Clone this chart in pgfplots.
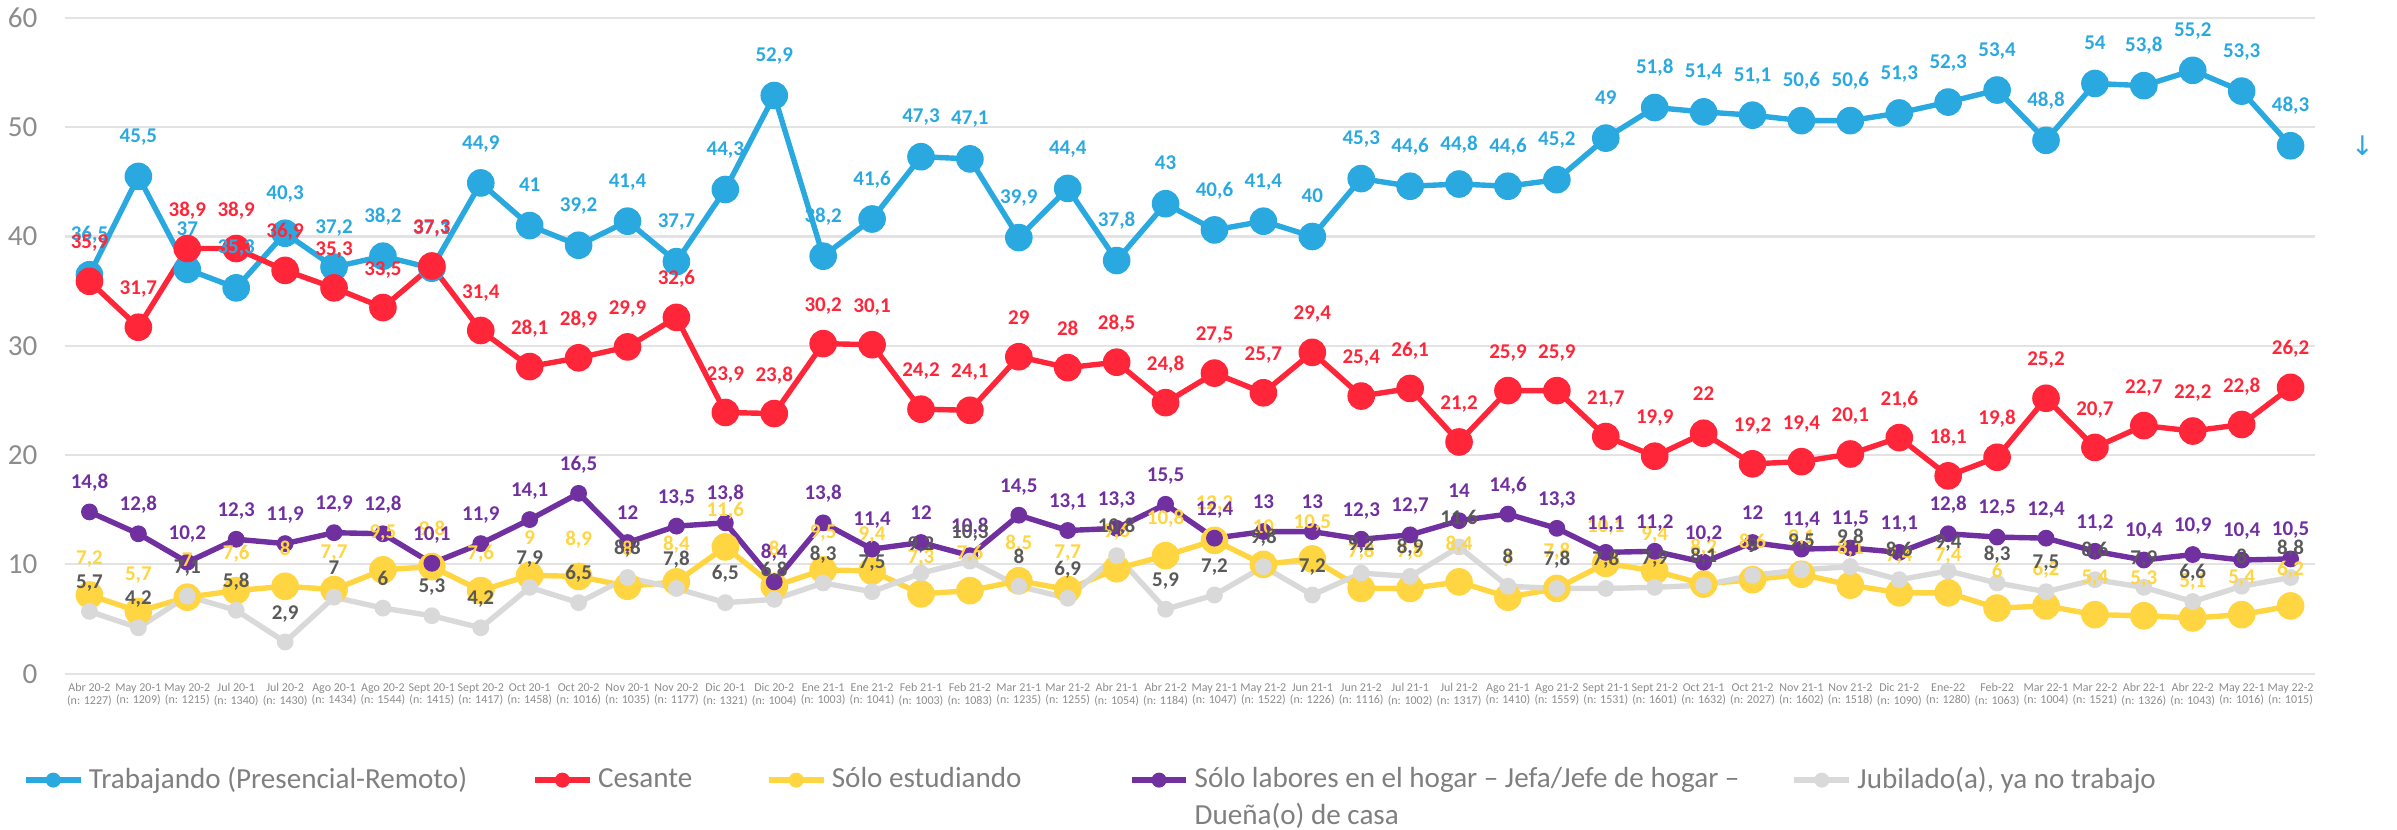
\documentclass[border=0pt]{standalone}
\usepackage{fontspec}
\setmainfont{Carlito}
\newfontfamily\dejavu{DejaVu Sans}
\usepackage{pgfplots}
\usepackage{pgfplotstable}
\pgfplotsset{compat=1.18}
\definecolor{cblue}{HTML}{2AA9E0}
\definecolor{cred}{HTML}{FF2639}
\definecolor{cyellow}{HTML}{FFD541}
\definecolor{cpurple}{HTML}{7030A0}
\definecolor{cgray}{HTML}{D9D9D9}
\definecolor{cgraylab}{HTML}{595959}
\definecolor{ctick}{HTML}{8C8C8C}
\definecolor{clegend}{HTML}{7F7F7F}
\definecolor{cgrid}{HTML}{E3E3E3}

\pgfplotstableread{
x T C E L J
0 36.5 35.9 7.2 14.8 5.7
1 45.5 31.7 5.7 12.8 4.2
2 37 38.9 7 10.2 7.1
3 35.3 38.9 7.6 12.3 5.8
4 40.3 36.9 8 11.9 2.9
5 37.2 35.3 7.7 12.9 7
6 38.2 33.5 9.5 12.8 6
7 37.1 37.3 9.8 10.1 5.3
8 44.9 31.4 7.6 11.9 4.2
9 41 28.1 9 14.1 7.9
10 39.2 28.9 8.9 16.5 6.5
11 41.4 29.9 8 12 8.8
12 37.7 32.6 8.4 13.5 7.8
13 44.3 23.9 11.6 13.8 6.5
14 52.9 23.8 8 8.4 6.8
15 38.2 30.2 9.5 13.8 8.3
16 41.6 30.1 9.4 11.4 7.5
17 47.3 24.2 7.3 12 9.2
18 47.1 24.1 7.6 10.8 10.3
19 39.9 29 8.5 14.5 8
20 44.4 28 7.7 13.1 6.9
21 37.8 28.5 9.6 13.3 10.8
22 43 24.8 10.8 15.5 5.9
23 40.6 27.5 12.2 12.4 7.2
24 41.4 25.7 10 13 9.8
25 40 29.4 10.5 13 7.2
26 45.3 25.4 7.8 12.3 9.2
27 44.6 26.1 7.8 12.7 8.9
28 44.8 21.2 8.4 14 11.6
29 44.6 25.9 7 14.6 8
30 45.2 25.9 7.8 13.3 7.8
31 49 21.7 10.1 11.1 7.8
32 51.8 19.9 9.4 11.2 7.9
33 51.4 22 8.2 10.2 8.1
34 51.1 19.2 8.6 12 9
35 50.6 19.4 9.1 11.4 9.5
36 50.6 20.1 8.1 11.5 9.8
37 51.3 21.6 7.4 11.1 8.6
38 52.3 18.1 7.4 12.8 9.4
39 53.4 19.8 6 12.5 8.3
40 48.8 25.2 6.2 12.4 7.5
41 54 20.7 5.4 11.2 8.6
42 53.8 22.7 5.3 10.4 7.9
43 55.2 22.2 5.1 10.9 6.6
44 53.3 22.8 5.4 10.4 8
45 48.3 26.2 6.2 10.5 8.8
}\data

\pgfplotsset{
  lab/.style={forget plot, draw=none, mark=none, point meta=y, nodes near coords,
    every node near coord/.append style={font=\bfseries\fontsize{7}{7}\selectfont,
      text=#1, inner sep=0pt, text height=4.4pt, text depth=0pt}},
}

\begin{document}
\begin{tikzpicture}
\useasboundingbox (0,0) rectangle (799pt,276.33pt);
\begin{axis}[
  at={(21.67pt,51.77pt)}, anchor=south west,
  scale only axis, width=750pt, height=218.6pt,
  xmin=-0.5, xmax=45.5, ymin=0, ymax=60,
  ytick={0,10,...,60},
  xtick={0,...,45},
  xticklabels={{Abr 20-2\\(n: 1227)},{May 20-1\\(n: 1209)},{May 20-2\\(n: 1215)},{Jul 20-1\\(n: 1340)},{Jul 20-2\\(n: 1430)},{Ago 20-1\\(n: 1434)},{Ago 20-2\\(n: 1544)},{Sept 20-1\\(n: 1415)},{Sept 20-2\\(n: 1417)},{Oct 20-1\\(n: 1458)},{Oct 20-2\\(n: 1016)},{Nov 20-1\\(n: 1035)},{Nov 20-2\\(n: 1177)},{Dic 20-1\\(n: 1321)},{Dic 20-2\\(n: 1004)},{Ene 21-1\\(n: 1003)},{Ene 21-2\\(n: 1041)},{Feb 21-1\\(n: 1003)},{Feb 21-2\\(n: 1083)},{Mar 21-1\\(n: 1235)},{Mar 21-2\\(n: 1255)},{Abr 21-1\\(n: 1054)},{Abr 21-2\\(n: 1184)},{May 21-1\\(n: 1047)},{May 21-2\\(n: 1522)},{Jun 21-1\\(n: 1226)},{Jun 21-2\\(n: 1116)},{Jul 21-1\\(n: 1002)},{Jul 21-2\\(n: 1317)},{Ago 21-1\\(n: 1410)},{Ago 21-2\\(n: 1559)},{Sept 21-1\\(n: 1531)},{Sept 21-2\\(n: 1601)},{Oct 21-1\\(n: 1632)},{Oct 21-2\\(n: 2027)},{Nov 21-1\\(n: 1602)},{Nov 21-2\\(n: 1518)},{Dic 21-2\\(n: 1090)},{Ene-22\\(n: 1280)},{Feb-22\\(n: 1063)},{Mar 22-1\\(n: 1004)},{Mar 22-2\\(n: 1521)},{Abr 22-1\\(n: 1326)},{Abr 22-2\\(n: 1043)},{May 22-1\\(n: 1016)},{May 22-2\\(n: 1015)}},
  axis line style={draw=none},
  major tick length=0pt,
  ymajorgrids, grid style={draw=cgrid, line width=0.7pt},
  clip=false,
  /pgf/number format/use comma,
  /pgf/number format/fixed,
  /pgf/number format/precision=1,
  /pgf/number format/assume math mode=true,
  yticklabel style={font=\fontsize{9.7}{11}\selectfont, text=ctick, inner sep=0pt, xshift=-9pt},
  xticklabel style={font=\fontsize{4}{4.3}\selectfont, text=ctick, align=center, inner sep=0pt, yshift=-3pt},
  legend columns=5,
  legend cell align=left,
  legend style={at={(-0.01889,-0.1623)}, anchor=west, draw=none, fill=none, inner sep=0pt,
    font=\fontsize{9.7}{12.3}\selectfont, text=clegend,
    /tikz/every odd column/.append style={column sep=1.83pt},
    /tikz/every even column/.append style={column sep=0pt},
    nodes={inner sep=0pt}},
  legend image code/.code={\draw[mark repeat=2,mark phase=2,#1,mark size=2.3pt] plot coordinates {(0pt,0pt) (9.15pt,0pt) (18.3pt,0pt)};},
]
\addplot[color=cblue, line width=1.8pt, mark=*, mark size=4.4pt, mark options={solid, line width=0.4pt}] table[x=x,y=T]{\data};
\addlegendentry{\makebox[147.8pt][l]{Trabajando (Presencial-Remoto)}}
\addplot[color=cred, line width=1.8pt, mark=*, mark size=4.4pt, mark options={solid, line width=0.4pt}] table[x=x,y=C]{\data};
\addlegendentry{\makebox[56pt][l]{Cesante}}
\addplot[color=cyellow, line width=1.8pt, mark=*, mark size=4.4pt, mark options={solid, line width=0.4pt}] table[x=x,y=E]{\data};
\addlegendentry{\makebox[99pt][l]{Sólo estudiando}}
\addplot[color=cpurple, line width=1.8pt, mark=*, mark size=2.6pt, mark options={solid, line width=0.4pt}] table[x=x,y=L]{\data};
\addlegendentry{\makebox[199pt][l]{\rlap{\raisebox{-12.3pt}[0pt][0pt]{Dueña(o) de casa}}Sólo labores en el hogar – Jefa/Jefe de hogar –}}
\addplot[color=cgray, line width=1.8pt, mark=*, mark size=2.6pt, mark options={solid, line width=0.4pt}] table[x=x,y=J]{\data};
\addlegendentry{Jubilado(a), ya no trabajo}

\addplot[lab=cblue, every node near coord/.append style={yshift=11.1pt}] table[x=x,y=T]{\data};
\addplot[lab=cred, every node near coord/.append style={yshift=10.6pt}] table[x=x,y=C]{\data};
\addplot[lab=cyellow, every node near coord/.append style={yshift=10.1pt}] table[x=x,y=E]{\data};
\addplot[lab=cpurple, every node near coord/.append style={yshift=7.5pt}] table[x=x,y=L]{\data};
\addplot[lab=cgraylab, every node near coord/.append style={yshift=7.4pt}] table[x=x,y=J]{\data};

\node[text=cblue, font=\dejavu\fontsize{9}{9}\selectfont, inner sep=0pt] at (axis cs:46.47,48.3) {↓};
\end{axis}
\end{tikzpicture}
\end{document}
